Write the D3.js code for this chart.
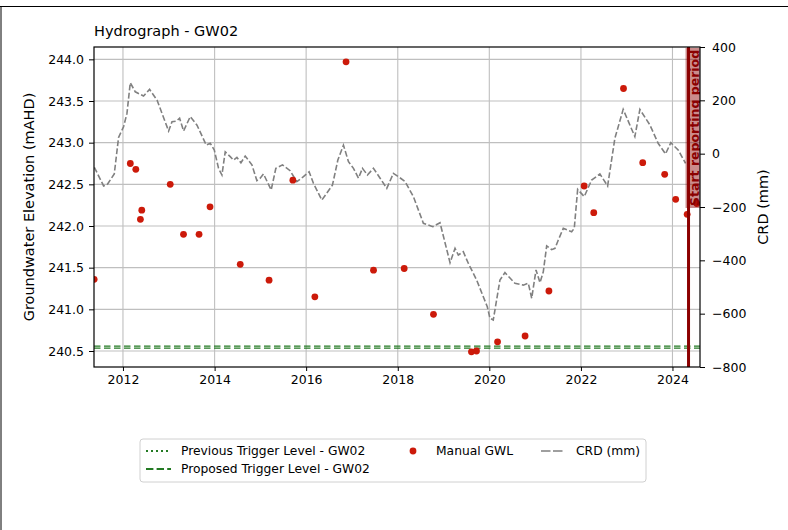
<!DOCTYPE html>
<html>
<head>
<meta charset="utf-8">
<script src="https://cdn.jsdelivr.net/npm/d3@7/dist/d3.min.js"></script>
<style>
  html, body { margin: 0; padding: 0; background: #fff; }
  svg text { font-family: "DejaVu Sans", sans-serif; fill: #000; }
</style>
</head>
<body>
<svg id="chart" width="788" height="530"></svg>
<script>
// ---------- DATA (dates as decimal years) ----------
const gwlDates = [2011.37, 2012.16, 2012.28, 2012.38, 2012.41, 2013.03, 2013.32, 2013.66, 2013.90,
  2014.56, 2015.19, 2015.71, 2016.19, 2016.87, 2017.47, 2018.14, 2018.78, 2019.61, 2019.72,
  2020.18, 2020.78, 2021.30, 2022.07, 2022.28, 2022.93, 2023.35, 2023.83, 2024.07, 2024.32, 2024.53];
const gwlValues = [241.36, 242.75, 242.68, 242.08, 242.19, 242.50, 241.90, 241.90, 242.23,
  241.54, 241.35, 242.55, 241.15, 243.97, 241.47, 241.49, 240.94, 240.49, 240.50,
  240.61, 240.68, 241.22, 242.48, 242.16, 243.65, 242.76, 242.62, 242.32, 242.14, 242.27];

const crdDates = [2011.374, 2011.577, 2011.651, 2011.810, 2011.904, 2012.013, 2012.087, 2012.159,
  2012.268, 2012.449, 2012.580, 2012.742, 2012.995, 2013.069, 2013.163, 2013.235, 2013.322,
  2013.468, 2013.615, 2013.818, 2013.905, 2013.992, 2014.086, 2014.160, 2014.232, 2014.341,
  2014.413, 2014.487, 2014.575, 2014.669, 2014.815, 2014.924, 2014.996, 2015.068, 2015.236,
  2015.338, 2015.482, 2015.650, 2015.797, 2015.941, 2016.065, 2016.159, 2016.342, 2016.573,
  2016.691, 2016.813, 2016.923, 2017.032, 2017.141, 2017.228, 2017.337, 2017.468, 2017.614,
  2017.760, 2017.904, 2018.013, 2018.160, 2018.341, 2018.559, 2018.764, 2018.923, 2019.142,
  2019.251, 2019.323, 2019.432, 2019.541, 2019.724, 2019.956, 2020.014, 2020.086, 2020.232,
  2020.341, 2020.559, 2020.741, 2020.850, 2020.924, 2021.018, 2021.105, 2021.177, 2021.251,
  2021.360, 2021.433, 2021.505, 2021.614, 2021.797, 2021.854, 2021.928, 2022.072, 2022.233,
  2022.414, 2022.583, 2022.742, 2022.923, 2023.178, 2023.288, 2023.506, 2023.687, 2023.848,
  2023.964, 2024.124, 2024.285];
const crdValues = [-51, -121, -117, -76, 61, 101, 151, 266,
  232, 216, 241, 201, 85, 120, 122, 133, 85,
  139, 107, 32, 39, 14, -55, -80, 7, -11,
  -24, -14, -34, -9, -42, -101, -92, -76, -136,
  -55, -42, -64, -105, -86, -68, -111, -174, -118,
  -24, 32, -30, -55, -92, -55, -80, -55, -92,
  -130, -74, -86, -105, -161, -261, -274, -259, -409,
  -355, -380, -368, -411, -474, -574, -617, -624, -474,
  -446, -486, -493, -486, -542, -436, -484, -443, -346,
  -360, -355, -324, -280, -293, -280, -134, -161, -99,
  -76, -121, 58, 166, 64, 166, 108, 39, -1,
  41, 14, -36];

const previousTrigger = 240.558;
const proposedTrigger = 240.535;
const reportingStart = 2024.35;

const xDomain = [2011.367, 2024.60];
const yLeftDomain = [240.308, 244.148];
const yRightDomain = [-800, 400];
const yLeftTicks = [240.5, 241.0, 241.5, 242.0, 242.5, 243.0, 243.5, 244.0];
const yRightTicks = [-800, -600, -400, -200, 0, 200, 400];
const xTickYears = [2012, 2014, 2016, 2018, 2020, 2022, 2024];

const titleText = "Hydrograph - GW02";
const yLeftLabel = "Groundwater Elevation (mAHD)";
const yRightLabel = "CRD (mm)";
const reportingLabel = "Start reporting period";
const legendLabels = ["Previous Trigger Level - GW02", "Proposed Trigger Level - GW02", "Manual GWL", "CRD (mm)"];

// ---------- helpers ----------
function dy(y) {
  const yr = Math.floor(y);
  const s = Date.UTC(yr, 0, 1), e = Date.UTC(yr + 1, 0, 1);
  return new Date(s + (y - yr) * (e - s));
}

const svg = d3.select("#chart");
const L = 94, R = 700, T = 47, B = 367;

const x = d3.scaleUtc().domain(xDomain.map(dy)).range([L, R]);
const yL = d3.scaleLinear().domain(yLeftDomain).range([B, T]);
const yR = d3.scaleLinear().domain(yRightDomain).range([B, T]);

// figure frame lines
svg.append("line").attr("x1", 0).attr("x2", 788).attr("y1", 6.5).attr("y2", 6.5).attr("stroke", "#000").attr("stroke-width", 1);
svg.append("line").attr("x1", 1).attr("x2", 1).attr("y1", 6).attr("y2", 530).attr("stroke", "#000").attr("stroke-width", 1);

svg.append("defs").append("clipPath").attr("id", "clip")
  .append("rect").attr("x", L).attr("y", T).attr("width", R - L).attr("height", B - T);

// grid
const grid = svg.append("g");
xTickYears.forEach(yr => {
  const xx = x(dy(yr));
  grid.append("line").attr("x1", xx).attr("x2", xx).attr("y1", T).attr("y2", B)
    .attr("stroke", "#bfbfbf").attr("stroke-width", 1.1);
});
yLeftTicks.forEach(v => {
  grid.append("line").attr("x1", L).attr("x2", R).attr("y1", yL(v)).attr("y2", yL(v))
    .attr("stroke", "#bfbfbf").attr("stroke-width", 1.1);
});

const plot = svg.append("g").attr("clip-path", "url(#clip)");

// trigger levels
plot.append("line").attr("x1", L).attr("x2", R).attr("y1", yL(previousTrigger)).attr("y2", yL(previousTrigger))
  .attr("stroke", "#237a23").attr("stroke-width", 1.3).attr("stroke-dasharray", "6.5,3.5");
plot.append("line").attr("x1", L).attr("x2", R).attr("y1", yL(proposedTrigger)).attr("y2", yL(proposedTrigger))
  .attr("stroke", "#237a23").attr("stroke-width", 1.3).attr("stroke-dasharray", "6.5,3.5");

// CRD line
const crd = crdDates.map((d, i) => [dy(d), crdValues[i]]);
plot.append("path").datum(crd)
  .attr("d", d3.line().x(d => x(d[0])).y(d => yR(d[1])))
  .attr("fill", "none").attr("stroke", "#808080").attr("stroke-width", 1.6)
  .attr("stroke-dasharray", "5.8,2.4");

// manual GWL
plot.selectAll("circle.gwl").data(gwlDates.map((d, i) => [dy(d), gwlValues[i]]))
  .enter().append("circle").attr("class", "gwl")
  .attr("cx", d => x(d[0])).attr("cy", d => yL(d[1])).attr("r", 3.4)
  .attr("fill", "#cc1a0a");

// reporting period line + label
const rx = x(dy(reportingStart));
plot.append("line").attr("x1", rx).attr("x2", rx).attr("y1", T).attr("y2", B)
  .attr("stroke", "#8b0000").attr("stroke-width", 3);
const lab = plot.append("g").attr("transform", `translate(${rx + 10},206) rotate(-90)`);
const labText = lab.append("text").attr("x", 0).attr("y", 0)
  .attr("font-size", 12.5).attr("font-weight", "bold").style("fill", "#8b0000")
  .text(reportingLabel);
const bb = labText.node().getBBox();
lab.insert("rect", "text").attr("x", bb.x - 2).attr("y", bb.y - 1).attr("width", bb.width + 4).attr("height", bb.height + 2)
  .attr("fill", "rgba(139,0,0,0.45)");

// axes
const xAxis = svg.append("g").attr("transform", `translate(0,${B})`)
  .call(d3.axisBottom(x).tickValues(xTickYears.map(dy)).tickFormat(d3.utcFormat("%Y")).tickSize(4).tickPadding(4));
const yAxisL = svg.append("g").attr("transform", `translate(${L},0)`)
  .call(d3.axisLeft(yL).tickValues(yLeftTicks).tickFormat(d3.format(".1f")).tickSize(5).tickPadding(5));
const yAxisR = svg.append("g").attr("transform", `translate(${R},0)`)
  .call(d3.axisRight(yR).tickValues(yRightTicks).tickFormat(d => d < 0 ? "\u2212" + Math.abs(d) : d).tickSize(5).tickPadding(7));
[xAxis, yAxisL, yAxisR].forEach(g => {
  g.select(".domain").remove();
  g.selectAll("text").attr("font-size", 12.5).attr("font-family", "DejaVu Sans, sans-serif").style("fill", "#000");
  g.selectAll("line").attr("stroke", "#000").attr("stroke-width", 1);
});

// spines
svg.append("rect").attr("x", L).attr("y", T).attr("width", R - L).attr("height", B - T)
  .attr("fill", "none").attr("stroke", "#000").attr("stroke-width", 1.2);

// title & labels
svg.append("text").attr("x", L).attr("y", 36).attr("font-size", 14.5).text(titleText);
svg.append("text").attr("transform", `translate(33.5,${(T + B) / 2}) rotate(-90)`)
  .attr("text-anchor", "middle").attr("font-size", 14.5).text(yLeftLabel);
svg.append("text").attr("transform", `translate(767.5,${(T + B) / 2}) rotate(-90)`)
  .attr("text-anchor", "middle").attr("font-size", 14.5).text(yRightLabel);

// legend
const lg = svg.append("g");
lg.append("rect").attr("x", 140).attr("y", 439).attr("width", 506).attr("height", 43).attr("rx", 3)
  .attr("fill", "#fff").attr("stroke", "#d0d0d0").attr("stroke-width", 1);
const r1 = 451, r2 = 469;
lg.append("line").attr("x1", 146).attr("x2", 171).attr("y1", r1).attr("y2", r1)
  .attr("stroke", "#237a23").attr("stroke-width", 2).attr("stroke-dasharray", "2,3");
lg.append("line").attr("x1", 146).attr("x2", 171).attr("y1", r2).attr("y2", r2)
  .attr("stroke", "#237a23").attr("stroke-width", 2).attr("stroke-dasharray", "7.4,3.2");
lg.append("circle").attr("cx", 413).attr("cy", r1).attr("r", 3.4).attr("fill", "#cc1a0a");
lg.append("line").attr("x1", 541).attr("x2", 565).attr("y1", r1).attr("y2", r1)
  .attr("stroke", "#808080").attr("stroke-width", 1.6).attr("stroke-dasharray", "9.5,2.5");
const lt = [[181, r1, legendLabels[0]], [181, r2, legendLabels[1]], [436, r1, legendLabels[2]], [576, r1, legendLabels[3]]];
lt.forEach(([tx, ty, s]) => lg.append("text").attr("x", tx).attr("y", ty).attr("dy", "0.36em").attr("font-size", 12.3).text(s));
</script>
</body>
</html>
